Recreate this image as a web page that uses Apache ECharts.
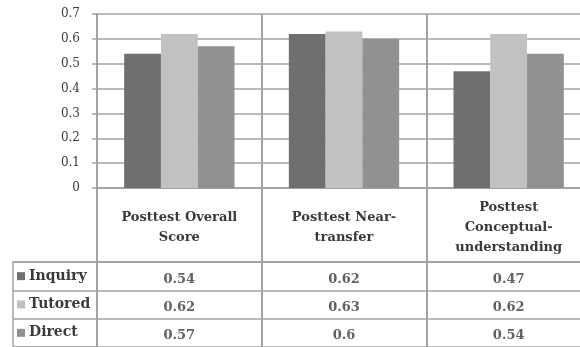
<!DOCTYPE html>
<html>
<head>
<meta charset="utf-8">
<script src="https://cdn.jsdelivr.net/npm/echarts@6/dist/echarts.min.js"></script>
<style>
  html, body { margin: 0; padding: 0; background: #fff; overflow: hidden; }
  #chart { width: 592px; height: 347px; }
</style>
</head>
<body>
<div id="chart"></div>
<script>
// Posttest outcome measures and condition results
const categories = ['Posttest Overall\nScore', 'Posttest Near-\ntransfer', 'Posttest\nConceptual-\nunderstanding'];
const groups = ['Inquiry', 'Tutored', 'Direct'];
const inquiry = [0.54, 0.62, 0.47];
const tutored = [0.62, 0.63, 0.62];
const direct = [0.57, 0.6, 0.54];
const yTicks = [0, 0.1, 0.2, 0.3, 0.4, 0.5, 0.6, 0.7];

const seriesValues = [inquiry, tutored, direct];
const colors = ['#6f6f6f', '#c1c1c1', '#919191'];
const lineColor = '#a3a3a3';
const textColor = '#3a3a3a';
const serif = 'DejaVu Serif';

const chart = echarts.init(document.getElementById('chart'), null, { renderer: 'canvas' });

const bars = groups.map((g, i) => ({
  name: g,
  type: 'bar',
  xAxisIndex: 0,
  yAxisIndex: 0,
  data: seriesValues[i],
  barGap: '0%',
  barCategoryGap: '33%',
  itemStyle: { color: colors[i] },
  silent: true
}));

// value cells of the data table
const cells = groups.map((g, i) => ({
  name: g + ' table',
  type: 'scatter',
  xAxisIndex: 1,
  yAxisIndex: 1,
  symbolSize: 1,
  itemStyle: { color: 'transparent' },
  data: seriesValues[i].map((v, j) => [j, g, v]),
  label: {
    show: true,
    position: 'inside',
    offset: [0, 3],
    formatter: p => String(p.value[2]),
    fontFamily: serif,
    fontSize: 13,
    fontWeight: 'bold',
    color: textColor
  },
  silent: true
}));

const rich = { name: { fontFamily: serif, fontSize: 14, fontWeight: 'bold', color: textColor, padding: [0, 0, 0, 4] } };
colors.forEach((c, i) => {
  rich['s' + i] = { backgroundColor: c, width: 8, height: 8 };
});

chart.setOption({
  animation: false,
  grid: [
    { left: 97, width: 494, top: 14, height: 174 },
    { left: 97, width: 494, top: 262, height: 87 },
    { left: 13, width: 84, top: 262, height: 87, show: true, borderColor: lineColor, borderWidth: 1.5, backgroundColor: 'transparent' }
  ],
  xAxis: [
    {
      gridIndex: 0,
      type: 'category',
      data: categories,
      axisLine: { show: true, lineStyle: { color: lineColor, width: 2 } },
      axisTick: { show: true, length: 74, interval: 0, lineStyle: { color: lineColor, width: 2 } },
      splitLine: { show: true, interval: 0, lineStyle: { color: lineColor, width: 2 } },
      axisLabel: {
        interval: 0,
        margin: 40,
        verticalAlign: 'middle',
        lineHeight: 20,
        fontFamily: serif,
        fontSize: 13,
        fontWeight: 'bold',
        color: textColor
      }
    },
    {
      gridIndex: 1,
      type: 'category',
      position: 'top',
      data: categories,
      axisLine: { show: true, lineStyle: { color: lineColor, width: 2 } },
      axisTick: { show: false },
      axisLabel: { show: false },
      splitLine: { show: true, interval: 0, lineStyle: { color: lineColor, width: 2 } }
    },
    { gridIndex: 2, type: 'value', show: false }
  ],
  yAxis: [
    {
      gridIndex: 0,
      type: 'value',
      min: yTicks[0],
      max: yTicks[yTicks.length - 1],
      interval: 0.1,
      axisLine: { show: true, lineStyle: { color: lineColor, width: 2 } },
      axisTick: { show: true, length: 5, lineStyle: { color: lineColor, width: 1.5 } },
      splitLine: { show: true, lineStyle: { color: lineColor, width: 1.5 } },
      axisLabel: {
        margin: 17,
        formatter: v => String(Math.round(v * 10) / 10),
        fontFamily: serif,
        fontSize: 12,
        color: textColor
      }
    },
    {
      gridIndex: 1,
      type: 'category',
      inverse: true,
      data: groups,
      axisLine: { show: true, lineStyle: { color: lineColor, width: 2 } },
      axisTick: { show: true, length: 84, interval: 0, lineStyle: { color: lineColor, width: 1.5 } },
      splitLine: { show: true, interval: 0, lineStyle: { color: lineColor, width: 1.5 } },
      axisLabel: {
        interval: 0,
        margin: 80,
        align: 'left',
        formatter: (v, i) => '{s' + i + '| }{name|' + v + '}',
        rich: rich
      }
    },
    { gridIndex: 2, type: 'value', show: false }
  ],
  series: bars.concat(cells)
});
</script>
</body>
</html>
